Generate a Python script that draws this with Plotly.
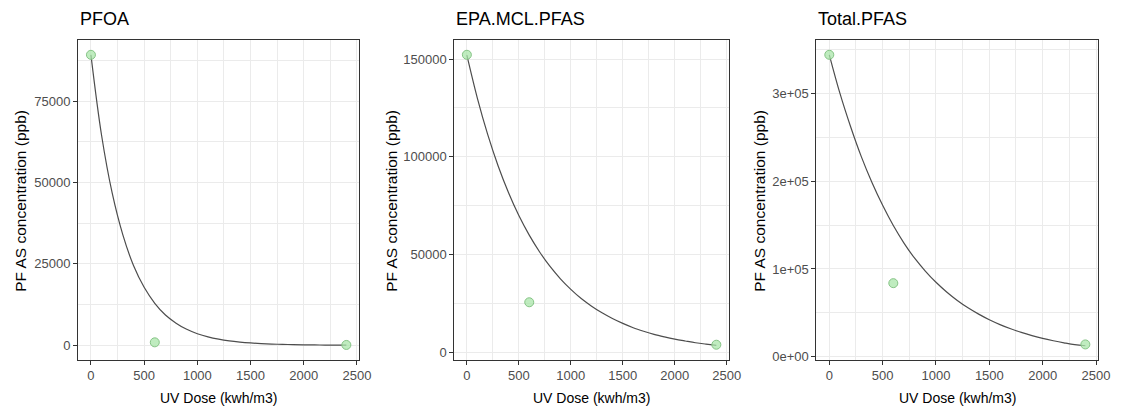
import plotly.graph_objects as go

# ---------------- data ----------------
panels = ["PFOA", "EPA.MCL.PFAS", "Total.PFAS"]

dose_obs = [0, 600, 2400]
pfoa_obs = [89200, 900, 100]
epa_obs = [152200, 25700, 4000]
total_obs = [344000, 83800, 14000]

dose_fit = [0, 100, 200, 300, 400, 500, 600, 700, 800, 900, 1000, 1100, 1200,
            1300, 1400, 1500, 1600, 1700, 1800, 1900, 2000, 2100, 2200, 2300, 2400]
pfoa_fit = [89200, 64500, 46700, 33900, 24500, 17800, 12900, 9300, 6800, 4900,
            3550, 2580, 1870, 1350, 980, 710, 515, 373, 270, 196, 142, 103, 75, 54, 39]
epa_fit = [152000, 130200, 111500, 95500, 81800, 70000, 60000, 51400, 44000, 37700,
           32300, 27600, 23700, 20300, 17400, 14900, 12700, 10900, 9300, 8000,
           6850, 5900, 5000, 4300, 3700]
total_fit = [344000, 300000, 262000, 228000, 198500, 172500, 149500, 129500, 112200, 97600,
             84800, 73800, 64100, 55700, 48500, 42100, 36600, 31800, 27700, 24100,
             20900, 18200, 15800, 13700, 12500]

x_ticks = [0, 500, 1000, 1500, 2000, 2500]
y_ticks = [[0, 25000, 50000, 75000],
           [0, 50000, 100000, 150000],
           [0, 100000, 200000, 300000]]
y_ticktext = [["0", "25000", "50000", "75000"],
              ["0", "50000", "100000", "150000"],
              ["0e+00", "1e+05", "2e+05", "3e+05"]]
y_minor = [12500, 25000, 50000]
y_ranges = [[-4460, 93660], [-3700, 159600], [-3500, 360500]]

x_title = "UV Dose (kwh/m3)"
y_title = "PF AS concentration (ppb)"

# ---------------- layout geometry ----------------
W, H = 1124, 414
x_px = [(79, 363), (459.3, 736.7), (825.3, 1110)]
y_top, y_bot = 40.7, 363.3
ytitle_px = [20, 395, 767]

FONT = "Liberation Sans, Arial, sans-serif"

fig = go.Figure()
obs = [pfoa_obs, epa_obs, total_obs]
fits = [pfoa_fit, epa_fit, total_fit]

for i in range(3):
    xa = "x" if i == 0 else f"x{i+1}"
    ya = "y" if i == 0 else f"y{i+1}"
    fig.add_trace(go.Scatter(
        x=dose_fit, y=fits[i], mode="lines", xaxis=xa, yaxis=ya,
        line=dict(color="#4D4D4D", width=1.2, shape="spline"),
        hoverinfo="skip", showlegend=False))
    fig.add_trace(go.Scatter(
        x=dose_obs, y=obs[i], mode="markers", xaxis=xa, yaxis=ya,
        marker=dict(size=9, color="rgba(170,230,170,0.75)",
                    line=dict(color="#86C486", width=1)),
        showlegend=False))

layout = dict(
    width=W, height=H, margin=dict(l=0, r=0, t=0, b=0),
    paper_bgcolor="white", plot_bgcolor="white",
    font=dict(family=FONT, color="#000000"),
    annotations=[],
)

for i in range(3):
    xk = "xaxis" if i == 0 else f"xaxis{i+1}"
    yk = "yaxis" if i == 0 else f"yaxis{i+1}"
    ya_anchor = "y" if i == 0 else f"y{i+1}"
    xa_anchor = "x" if i == 0 else f"x{i+1}"
    x0, x1 = x_px[i]
    layout[xk] = dict(
        domain=[x0 / W, x1 / W], anchor=ya_anchor, range=[-120, 2520],
        tickvals=x_ticks, ticktext=[str(v) for v in x_ticks],
        showline=True, mirror=True, linecolor="#333333", linewidth=1.1,
        ticks="outside", ticklen=4, tickcolor="#333333", tickwidth=1,
        tickfont=dict(size=13, color="#4D4D4D", family=FONT),
        showgrid=True, gridcolor="#EBEBEB", gridwidth=1.3, zeroline=False,
        minor=dict(showgrid=True, dtick=250, tick0=250, gridcolor="#EBEBEB",
                   gridwidth=0.8, ticks=""),
    )
    layout[yk] = dict(
        domain=[1 - y_bot / H, 1 - y_top / H], anchor=xa_anchor, range=y_ranges[i],
        tickvals=y_ticks[i], ticktext=y_ticktext[i],
        showline=True, mirror=True, linecolor="#333333", linewidth=1.1,
        ticks="outside", ticklen=4, tickcolor="#333333", tickwidth=1,
        tickfont=dict(size=13, color="#4D4D4D", family=FONT),
        showgrid=True, gridcolor="#EBEBEB", gridwidth=1.3, zeroline=False,
        minor=dict(showgrid=True, dtick=2 * y_minor[i], tick0=y_minor[i],
                   gridcolor="#EBEBEB", gridwidth=0.8, ticks=""),
    )
    # panel title
    layout["annotations"].append(dict(
        text=panels[i], xref="paper", yref="paper", x=x0 / W, y=1 - 19.5 / H,
        xanchor="left", yanchor="middle", showarrow=False,
        font=dict(size=18, color="#000000", family=FONT)))
    # x axis title
    layout["annotations"].append(dict(
        text=x_title, xref="paper", yref="paper", x=(x0 + x1) / 2 / W, y=1 - 401.5 / H,
        xanchor="center", yanchor="middle", showarrow=False,
        font=dict(size=14, color="#000000", family=FONT)))
    # y axis title
    layout["annotations"].append(dict(
        text=y_title, xref="paper", yref="paper", x=ytitle_px[i] / W,
        y=1 - 203 / H, textangle=-90,
        xanchor="center", yanchor="middle", showarrow=False,
        font=dict(size=15.5, color="#000000", family=FONT)))

fig.update_layout(**layout)
fig.write_html("out.html")
